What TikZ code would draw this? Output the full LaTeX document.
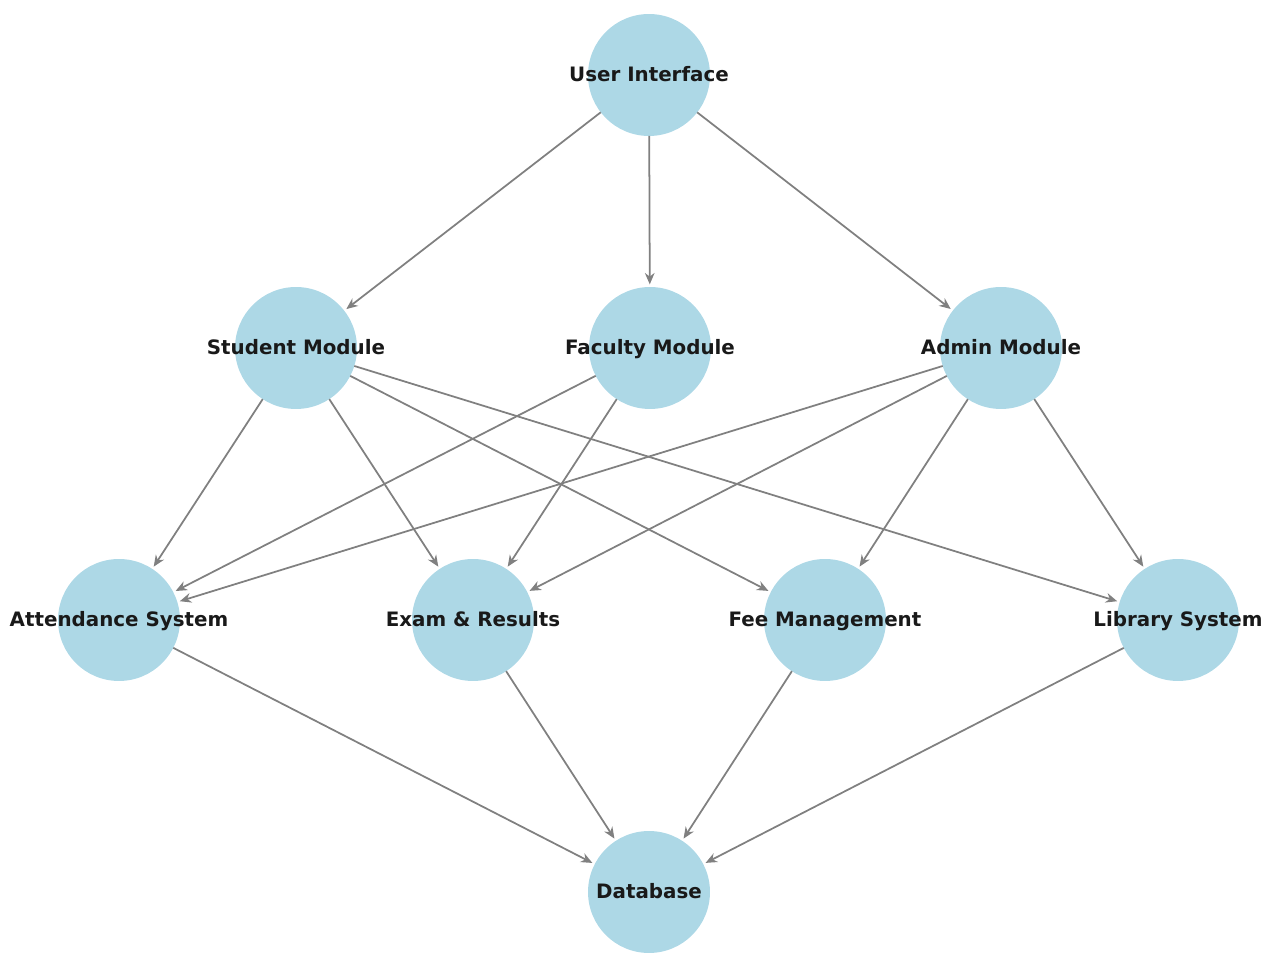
\documentclass[tikz,border=0pt]{standalone}
\usepackage{fontspec}
\setmainfont{DejaVu Sans}
\usetikzlibrary{arrows.meta}
\definecolor{lightblue}{HTML}{ADD8E6}

\begin{document}
\begin{tikzpicture}[x=0.02cm, y=-0.02cm, >={Stealth[length=6.5pt,width=5.5pt]}]
        \tikzset{
            module/.style={circle, fill=lightblue, minimum size=2.44cm, inner sep=0pt, outer sep=0pt,
                label={[font=\bfseries\fontsize{11.3}{13}\selectfont, text=black!90, text height=1.6ex, text depth=0.3ex]center:#1}},
            link/.style={->, draw=gray, line width=1pt, shorten >=1.5pt}
        }
        \useasboundingbox (0,0) rectangle (1265,955);

        % 顶层
        \node[module=User Interface] (ui) at (649,75) {};

        % 中间层模块
        \node[module=Student Module] (student) at (296,348) {};
        \node[module=Faculty Module] (faculty) at (650,348) {};
        \node[module=Admin Module] (admin) at (1001,348) {};

        % 功能子系统
        \node[module=Attendance System] (attend) at (119,620) {};
        \node[module=Exam \& Results] (exam) at (473,620) {};
        \node[module=Fee Management] (fee) at (825,620) {};
        \node[module=Library System] (library) at (1178,620) {};

        % 数据层
        \node[module=Database] (db) at (649,892) {};

        % 界面 -> 模块
        \draw[link] (ui) -- (student);
        \draw[link] (ui) -- (faculty);
        \draw[link] (ui) -- (admin);

        % 模块 -> 子系统
        \draw[link] (student) -- (attend);
        \draw[link] (student) -- (exam);
        \draw[link] (student) -- (fee);
        \draw[link] (student) -- (library);
        \draw[link] (faculty) -- (attend);
        \draw[link] (faculty) -- (exam);
        \draw[link] (admin) -- (attend);
        \draw[link] (admin) -- (exam);
        \draw[link] (admin) -- (fee);
        \draw[link] (admin) -- (library);

        % 子系统 -> 数据库
        \draw[link] (attend) -- (db);
        \draw[link] (exam) -- (db);
        \draw[link] (fee) -- (db);
        \draw[link] (library) -- (db);
    \end{tikzpicture}
\end{document}
